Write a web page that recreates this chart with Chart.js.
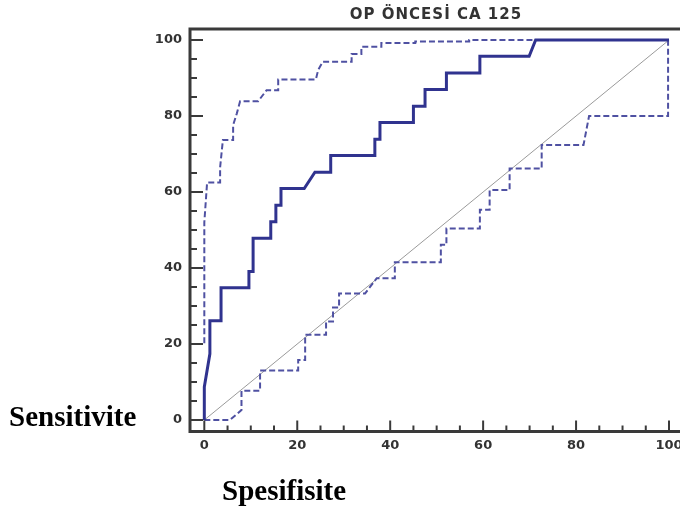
<!DOCTYPE html>
<html>
<head>
<meta charset="utf-8">
<script src="https://cdn.jsdelivr.net/npm/chart.js@4/dist/chart.umd.min.js"></script>
<style>
  html, body { margin: 0; padding: 0; background: #fff; overflow: hidden; }
  #wrap { position: relative; width: 680px; height: 514px; overflow: hidden; }
  canvas { position: absolute; left: 0; top: 0; }
  .lbl { position: absolute; white-space: nowrap; }
  #title { left: 190px; width: 492px; top: 5px; text-align: center; font: bold 15px "DejaVu Sans"; letter-spacing: 1px; color: #333; line-height: 18px; }
  #ylab { left: 9px; top: 402px; font: bold 29px "Liberation Serif"; line-height: 29px; color: #000; }
  #xlab { left: 222px; top: 476px; font: bold 29px "Liberation Serif"; line-height: 29px; color: #000; }
</style>
</head>
<body>
<div id="wrap">
  <canvas id="roc" width="710" height="514"></canvas>
  <div class="lbl" id="title">OP ÖNCESİ CA 125</div>
  <div class="lbl" id="ylab">Sensitivite</div>
  <div class="lbl" id="xlab">Spesifisite</div>
</div>
<script>
// ticks
const tickValues = [0, 20, 40, 60, 80, 100];
const tickLabels = ["0", "20", "40", "60", "80", "100"];

// ROC curve (100 - specificity, sensitivity)
const rocX = [0, 0, 1.2, 1.2, 3.6, 3.6, 9.6, 9.6, 10.5, 10.5, 14.3, 14.3, 15.4, 15.4, 16.5, 16.5, 21.5, 23.8, 27.2, 27.2, 36.7, 36.7, 37.8, 37.8, 45, 45, 47.5, 47.5, 52.1, 52.1, 59.3, 59.3, 69.9, 71.3, 100];
const rocY = [0, 8.7, 17.4, 26.1, 26.1, 34.8, 34.8, 39.1, 39.1, 47.8, 47.8, 52.2, 52.2, 56.5, 56.5, 60.9, 60.9, 65.2, 65.2, 69.6, 69.6, 73.9, 73.9, 78.3, 78.3, 82.6, 82.6, 87, 87, 91.3, 91.3, 95.7, 95.7, 100, 100];

// upper confidence bound
const upperX = [0, 0, 0.6, 3.4, 3.4, 4.0, 6.2, 6.2, 7.0, 7.7, 11.6, 13.4, 15.9, 15.9, 24.0, 24.5, 25.5, 31.7, 31.7, 33.8, 33.8, 38.1, 38.1, 45.4, 45.4, 57, 57, 100];
const upperY = [20.2, 52, 62.5, 62.5, 66.5, 73.7, 73.7, 77.6, 80.7, 83.9, 83.9, 86.8, 86.8, 89.6, 89.6, 92.1, 94.3, 94.3, 96.3, 96.3, 98.2, 98.2, 99.2, 99.2, 99.6, 99.6, 100, 100];

// lower confidence bound
const lowerX = [0, 5.5, 8.0, 8.0, 12.0, 12.0, 20.2, 20.2, 21.7, 21.7, 26.2, 26.2, 27.7, 27.7, 29.0, 29.0, 34.6, 37.1, 41.0, 41.0, 50.9, 50.9, 52.1, 52.1, 59.3, 59.3, 61.4, 61.4, 65.7, 65.7, 72.6, 72.6, 81.6, 82.8, 99.8, 99.8];
const lowerY = [0, 0, 2.6, 7.7, 7.7, 13.0, 13.0, 15.8, 15.8, 22.4, 22.4, 25.9, 25.9, 29.6, 29.6, 33.3, 33.3, 37.3, 37.3, 41.5, 41.5, 46.1, 46.1, 50.4, 50.4, 55.3, 55.3, 60.5, 60.5, 66.2, 66.2, 72.4, 72.4, 80.0, 80.0, 100];

// reference diagonal
const diagX = [0, 100];
const diagY = [0, 100];

const pts = (xs, ys) => xs.map((x, i) => ({ x: x, y: ys[i] }));

const frameColor = "#3a3a3a";

// frame + inward tick marks
const framePlugin = {
  id: "frame",
  afterDraw(chart) {
    const { ctx, chartArea: a, scales } = chart;
    ctx.save();
    ctx.strokeStyle = frameColor;
    ctx.lineWidth = 2;
    for (let v = 0; v <= 100; v += 5) {
      const major = v % 20 === 0;
      const py = scales.y.getPixelForValue(v);
      ctx.beginPath();
      ctx.moveTo(a.left, py);
      ctx.lineTo(a.left + (major ? 13 : 7), py);
      ctx.stroke();
      const px = scales.x.getPixelForValue(v);
      ctx.beginPath();
      ctx.moveTo(px, a.bottom);
      ctx.lineTo(px, a.bottom - (major ? 11 : 6));
      ctx.stroke();
    }
    ctx.lineWidth = 3;
    ctx.beginPath();
    ctx.moveTo(a.right, a.top);
    ctx.lineTo(a.left, a.top);
    ctx.lineTo(a.left, a.bottom);
    ctx.lineTo(a.right, a.bottom);
    ctx.stroke();
    ctx.restore();
  },
};

const fixedTicks = (scale) => {
  scale.ticks = tickValues.map((v) => ({ value: v }));
};

new Chart(document.getElementById("roc"), {
  type: "line",
  data: {
    datasets: [
      {
        label: "ROC",
        data: pts(rocX, rocY),
        borderColor: "#30338f",
        borderWidth: 3,
      },
      {
        label: "Upper",
        data: pts(upperX, upperY),
        borderColor: "#4f51a2",
        borderWidth: 2,
        borderDash: [6, 3],
      },
      {
        label: "Lower",
        data: pts(lowerX, lowerY),
        borderColor: "#4f51a2",
        borderWidth: 2,
        borderDash: [6, 3],
      },
      {
        label: "Diagonal",
        data: pts(diagX, diagY),
        borderColor: "#9a9a9a",
        borderWidth: 1,
      },
    ],
  },
  options: {
    responsive: false,
    animation: false,
    elements: { point: { radius: 0 }, line: { tension: 0 } },
    layout: { padding: { top: 29, right: 10, left: 0, bottom: 0 } },
    plugins: { legend: { display: false }, tooltip: { enabled: false }, title: { display: false } },
    scales: {
      x: {
        type: "linear",
        position: "bottom",
        min: -3.08,
        max: 106.67,
        afterBuildTicks: fixedTicks,
        afterFit: (s) => { s.height = 82.5; },
        grid: { display: false, drawTicks: false },
        border: { display: false },
        ticks: {
          padding: 6,
          color: "#333",
          font: { family: "DejaVu Sans", weight: "bold", size: 13 },
          callback: (v) => tickLabels[tickValues.indexOf(v)],
          maxRotation: 0,
          autoSkip: false,
        },
      },
      y: {
        type: "linear",
        min: -3.03,
        max: 102.9,
        afterBuildTicks: fixedTicks,
        afterFit: (s) => { s.width = 190; },
        grid: { display: false, drawTicks: false },
        border: { display: false },
        ticks: {
          padding: 8,
          color: "#333",
          font: { family: "DejaVu Sans", weight: "bold", size: 13 },
          callback: (v) => tickLabels[tickValues.indexOf(v)],
          autoSkip: false,
        },
      },
    },
  },
  plugins: [framePlugin],
});
</script>
</body>
</html>
